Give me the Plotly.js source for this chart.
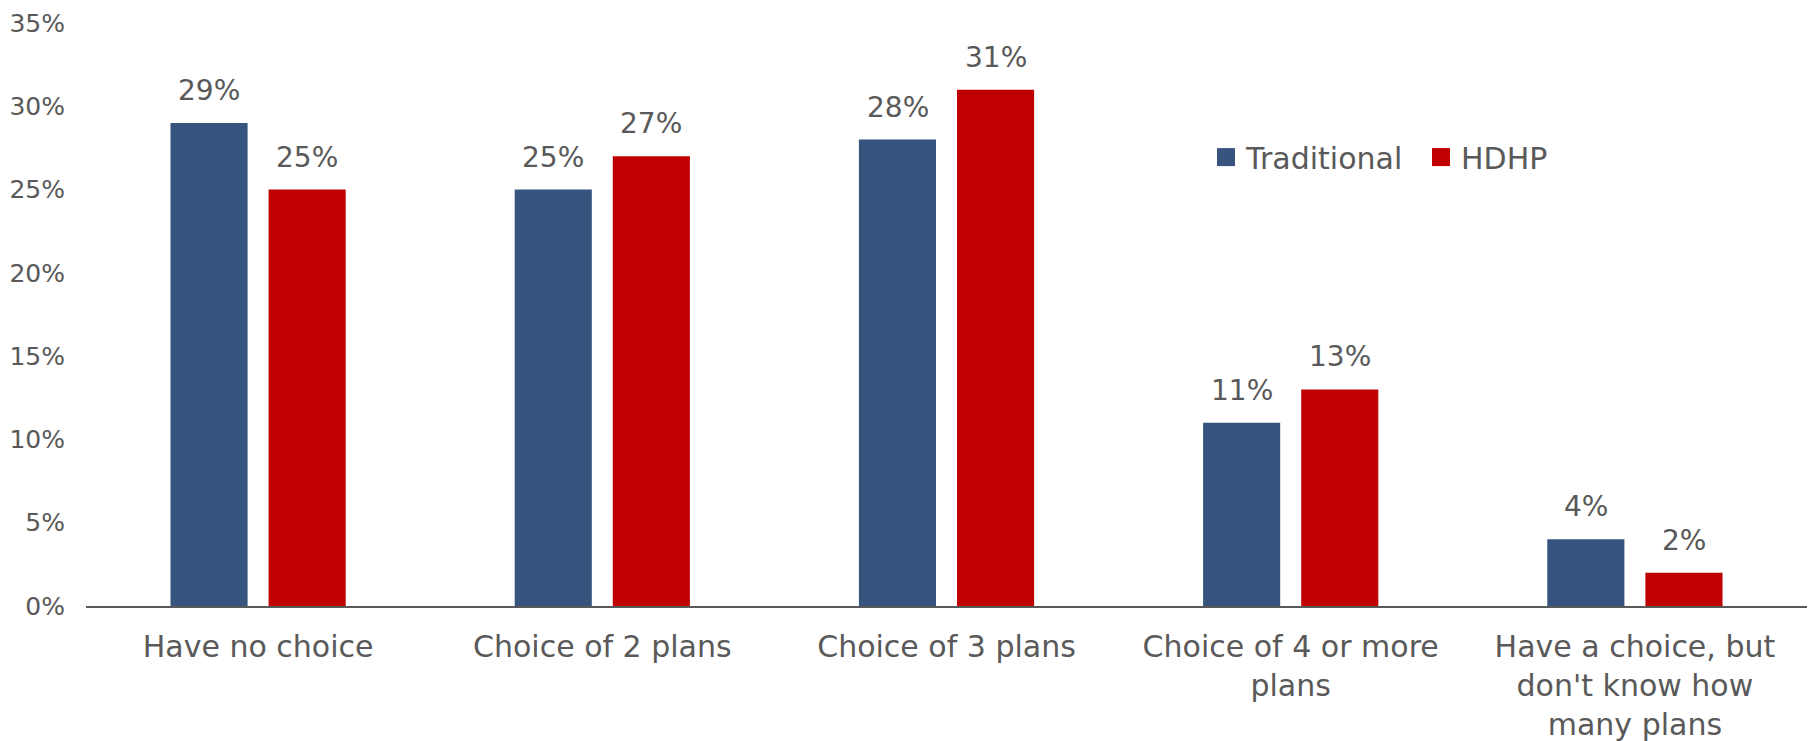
<!DOCTYPE html>
<html>
<head>
<meta charset="utf-8">
<script src="https://cdn.plot.ly/plotly-3.0.1.min.js"></script>
<style>html,body{margin:0;padding:0;background:#fff;}#chart{width:1818px;height:741px;}</style>
</head>
<body>
<div id="chart"></div>
<script>
const categories = ["Have no choice", "Choice of 2 plans", "Choice of 3 plans", "Choice of 4 or more<br>plans", "Have a choice, but<br>don't know how<br>many plans"];
const traditional = [29, 25, 28, 11, 4];
const hdhp = [25, 27, 31, 13, 2];
const seriesNames = ["Traditional", "HDHP"];
const seriesColors = ["#36547D", "#C00000"];

const FONT = "DejaVu Sans, sans-serif";
const TXT = "#595959";

const traces = [traditional, hdhp].map((vals, i) => ({
  type: "bar",
  name: seriesNames[i],
  x: categories,
  y: vals,
  marker: {color: seriesColors[i]},
  hoverinfo: "skip"
}));

// value labels, derived from the data arrays
const annotations = [];
[traditional, hdhp].forEach((vals, i) => {
  vals.forEach((v, j) => {
    annotations.push({
      x: categories[j], y: v, xref: "x", yref: "y",
      text: v + "%", showarrow: false,
      xanchor: "center", yanchor: "bottom",
      xshift: i === 0 ? -49 : 49, yshift: 14,
      font: {family: FONT, size: 28, color: TXT}
    });
  });
});

const layout = {
  width: 1818, height: 741,
  margin: {l: 86, r: 11, t: 23, b: 135},
  paper_bgcolor: "#fff", plot_bgcolor: "#fff",
  barmode: "group", bargap: 0.43, bargroupgap: 0.214,
  font: {family: FONT, color: TXT},
  xaxis: {
    showline: true, linecolor: "#595959", linewidth: 2,
    ticks: "", showgrid: false, zeroline: false,
    ticklabelstandoff: 13,
    tickfont: {family: FONT, size: 30, color: TXT}
  },
  yaxis: {
    range: [0, 35], dtick: 5, ticksuffix: "%",
    showgrid: false, zeroline: false, showline: false, ticks: "",
    ticklabelstandoff: 20,
    tickfont: {family: FONT, size: 25, color: TXT}
  },
  showlegend: true,
  legend: {
    orientation: "h", x: 0.6508, xanchor: "left", y: 0.77, yanchor: "middle",
    entrywidth: 170,
    font: {family: FONT, size: 30, color: TXT},
    bgcolor: "rgba(0,0,0,0)"
  },
  annotations: annotations
};

Plotly.newPlot("chart", traces, layout, {displayModeBar: false, staticPlot: true}).then(gd => {
  // enlarge legend squares to match reference, keeping their own placement
  gd.querySelectorAll(".legend .legendpoints path").forEach(p => {
    const t = p.getAttribute("transform") || "";
    p.setAttribute("transform", (t + " scale(1.5)").trim());
  });
});
</script>
</body>
</html>
